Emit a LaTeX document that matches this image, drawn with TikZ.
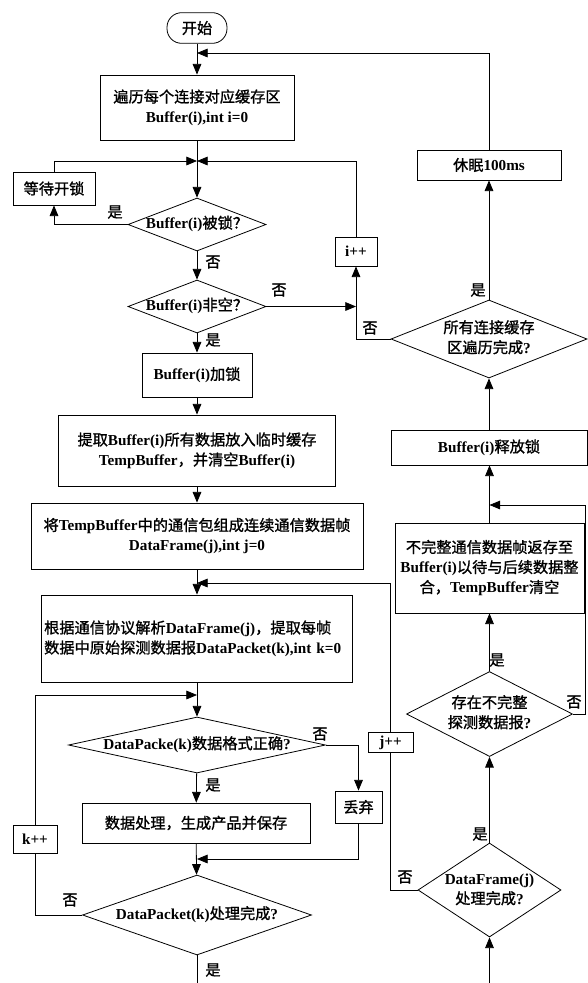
\documentclass[tikz,border=0pt]{standalone}
\usepackage{fontspec}
\setmainfont{Liberation Serif}
\newfontfamily\cjkfont{Noto Sans CJK SC}[FakeBold=1.2]
\newcommand\zh[1]{{\cjkfont\mdseries #1}}
\newcommand\dtxt[1]{\makebox[0pt]{\begin{tabular}{@{}c@{}}#1\end{tabular}}}
\usetikzlibrary{arrows.meta,shapes.geometric}
\begin{document}
\begin{tikzpicture}[x=0.75pt,y=-0.75pt, line width=0.6pt,
  font=\fontsize{11.4}{15}\selectfont\bfseries,
  box/.style={draw, rectangle, inner sep=1pt, align=center},
  dec/.style={draw, diamond, inner sep=0pt},
  arr/.style={-{Triangle[length=8pt,width=6.5pt]}},
  lbl/.style={inner sep=0pt, font=\fontsize{11.4}{13}\selectfont\cjkfont\mdseries}]
\useasboundingbox (0,0) rectangle (587,983);

% left column
\node[draw, rounded corners=11pt, minimum width=45pt, minimum height=23pt, inner sep=1pt] (start) at (197,28) {\zh{开始}};
\node[box, minimum width=145.5pt, minimum height=48.75pt] (b1) at (197,107.5) {\zh{遍历每个连接对应缓存区}\\Buffer(i),int i=0};
\node[box, minimum width=61.5pt, minimum height=24.75pt] (wait) at (54,188.5) {\zh{等待开锁}};
\node[dec, minimum width=103.5pt, minimum height=39.75pt] (d1) at (197,224.5) {\dtxt{Buffer(i)\zh{被锁？}}};
\node[dec, minimum width=103.5pt, minimum height=39.75pt] (d2) at (197,306.5) {\dtxt{Buffer(i)\zh{非空？}}};
\node[box, minimum width=82.5pt, minimum height=33pt] (lock) at (197,375) {Buffer(i)\zh{加锁}};
\node[box, minimum width=207.75pt, minimum height=53.25pt] (ext) at (197,450.5) {\zh{提取}Buffer(i)\zh{所有数据放入临时缓存}\\TempBuffer\zh{，并清空}Buffer(i)};
\node[box, minimum width=249pt, minimum height=49.5pt] (frm) at (197,536) {\zh{将}TempBuffer\zh{中的通信包组成连续通信数据帧}\\DataFrame(j),int j=0};
\node[draw, rectangle, inner xsep=2pt, inner ysep=1pt, text width=229.25pt, align=left, minimum height=65.25pt] (parse) at (197,638.5) {\zh{根据通信协议解析}DataFrame(j)\zh{，提取每帧}\\\zh{数据中原始探测数据报}DataPacket(k),int k=0};
\node[dec, minimum width=192.75pt, minimum height=42pt] (d6) at (197,745) {\dtxt{DataPacke(k)\zh{数据格式正确}?}};
\node[box, minimum width=35.25pt, minimum height=24pt] (disc) at (358.5,807) {\zh{丢弃}};
\node[box, minimum width=171pt, minimum height=30pt] (proc) at (196,823) {\zh{数据处理，生成产品并保存}};
\node[box, minimum width=33pt, minimum height=21pt] (kpp) at (35,839) {k++};
\node[dec, minimum width=171.75pt, minimum height=60pt] (d7) at (197,915) {\dtxt{DataPacket(k)\zh{处理完成}?}};

% right column
\node[box, minimum width=108pt, minimum height=22.5pt] (sleep) at (489,165) {\zh{休眠}100ms};
\node[box, minimum width=31.5pt, minimum height=21.75pt] (ipp) at (356,251.5) {i++};
\node[dec, minimum width=147pt, minimum height=58.5pt] (d3) at (489,339) {\dtxt{\zh{所有连接缓存}\\\zh{区遍历完成}?}};
\node[box, minimum width=147pt, minimum height=26.25pt] (rel) at (489,447.5) {Buffer(i)\zh{释放锁}};
\node[box, minimum width=141.75pt, minimum height=67.5pt, inner sep=0pt] (inc) at (489.5,568) {\zh{不完整通信数据帧返存至}\\Buffer(i)\zh{以待与后续数据整}\\\zh{合，}TempBuffer\zh{清空}};
\node[dec, minimum width=124.5pt, minimum height=63.75pt] (d4) at (489.5,714) {\dtxt{\zh{存在不完整}\\\zh{探测数据报}?}};
\node[box, minimum width=33.75pt, minimum height=15pt, inner sep=0pt] (jpp) at (390.5,742.5) {j++};
\node[dec, minimum width=107.25pt, minimum height=70.5pt] (d5) at (489.5,890) {\dtxt{DataFrame(j)\\\zh{处理完成}?}};

% helper coordinates
\coordinate (m0) at (197,53);
\coordinate (m1) at (197,161);
\coordinate (m505) at (489.5,505);
\coordinate (rc) at (585,714);
\coordinate (bot) at (489.5,983);
\coordinate (m583) at (197,583);
\coordinate (m695) at (197,695);
\coordinate (m859) at (197,859);
\coordinate (bot2) at (197,983);

% connectors left
\draw[arr] (start) -- (b1);
\draw[arr] (sleep.north) |- (m0);
\draw[arr] (b1) -- (d1);
\draw[arr] (d1.west) -| (wait.south);
\draw[arr] (wait.north) |- (m1);
\draw[arr] (ipp.north) |- (m1);
\draw[arr] (d1) -- (d2);
\draw[arr] (d2.east) -- (d2.east -| ipp.south);
\draw[arr] (d2) -- (lock);
\draw[arr] (lock) -- (ext);
\draw[arr] (ext) -- (frm);
\draw[arr] (frm) -- (parse);
\draw[arr] (jpp.north) |- (m583);
\draw[arr] (parse) -- (d6);
\draw[arr] (kpp.north) |- (m695);
\draw[arr] (d6.east) -| (disc.north);
\draw[arr] (d6) -- (proc);
\draw[arr] (proc) -- (d7);
\draw[arr] (disc.south) |- (m859);
\draw (d7.west) -| (kpp.south);
\draw (d7.south) -- (bot2);

% connectors right
\draw[arr] (d3.west) -| (ipp.south);
\draw[arr] (d3.north) -- (d3.north |- sleep.south);
\draw[arr] (rel.north) -- (rel.north |- d3.south);
\draw[arr] (inc.north) -- (inc.north |- rel.south);
\draw[arr] (d4.east) -- (rc) |- (m505);
\draw[arr] (d4.north) -- (inc.south);
\draw[arr] (d5.north) -- (d4.south);
\draw[arr] (bot) -- (d5.south);
\draw (d5.west) -| (jpp.south);

% labels
\node[lbl] (l1) at (115,212) {是};
\node[lbl] (l2) at (213,262) {否};
\node[lbl] (l3) at (279,290) {否};
\node[lbl] (l4) at (213,340) {是};
\node[lbl] (l5) at (370,328) {否};
\node[lbl] (l6) at (478,290) {是};
\node[lbl] (l7) at (497,660) {是};
\node[lbl] (l8) at (574,702) {否};
\node[lbl] (l9) at (480,834) {是};
\node[lbl] (l10) at (405,877) {否};
\node[lbl] (l11) at (320,734) {否};
\node[lbl] (l12) at (213,785) {是};
\node[lbl] (l13) at (70,900) {否};
\node[lbl] (l14) at (213,970) {是};
\end{tikzpicture}
\end{document}
